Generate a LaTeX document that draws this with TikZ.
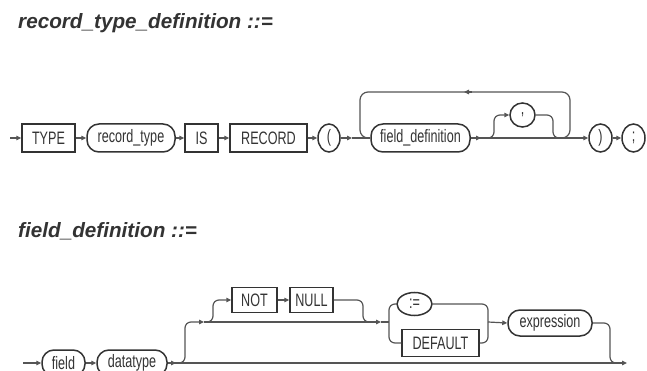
\documentclass[tikz,border=0pt]{standalone}
\usepackage{fontspec}
\setmainfont{Liberation Sans}
\newfontfamily\boxfont[FakeStretch=0.7]{Liberation Sans}
\usetikzlibrary{arrows.meta,shapes.geometric}
\definecolor{ink}{HTML}{333333}
\definecolor{wire}{HTML}{555555}
\begin{document}
\begin{tikzpicture}[x=1pt,y=-1pt,
  base/.style={draw=ink, line width=1.5pt, inner sep=0pt, text=ink,
    font={\boxfont\fontsize{18}{18}\selectfont}},
  kw/.style={base, rectangle, minimum height=28pt},
  idn/.style={base, rectangle, rounded corners=12pt, minimum height=28pt},
  sym/.style={base, ellipse, minimum height=28pt},
  wire/.style={draw=wire, line width=1.2pt},
  arr/.style={-{Triangle[length=5pt,width=4.5pt]}},
  title/.style={anchor=base west, text=ink, inner sep=0pt,
    font={\fontsize{20.7}{24}\selectfont\bfseries\itshape}}]
\fill[white] (0,0) rectangle (647,371);
\useasboundingbox (0,0) rectangle (647,371);

% ---------- titles
\node[title] (t1) at (18,29) {record\_type\_definition ::=};
\node[title] (t2) at (18,237) {field\_definition ::=};

% ---------- record_type_definition
\coordinate (s1) at (10,138);
\node[kw, minimum width=53pt] (TYPE) at (48.5,138) {TYPE};
\node[idn, minimum width=88pt] (rt) at (131,138) {record\_type};
\node[kw, minimum width=33pt] (IS) at (201.5,138) {IS};
\node[kw, minimum width=77pt] (REC) at (268.5,138) {RECORD};
\node[sym, minimum width=22pt] (lp) at (329,138) {(};
\node[idn, minimum width=99pt] (fd) at (420.5,138) {field\_definition};
\node[sym, minimum width=25pt, minimum height=24pt] (comma) at (522.5,115) {,};
\node[sym, minimum width=23pt] (rp) at (600.5,138) {)};
\node[sym, minimum width=23pt] (semi) at (633.5,138) {;};

\coordinate (a1) at (352,138);
\coordinate (lb) at (360,138);
\coordinate (lt) at (360,92);
\coordinate (rtop) at (570,92);
\coordinate (rb) at (570,138);
\coordinate (re) at (560,138);
\coordinate (la1) at (472,92);
\coordinate (la2) at (464,92);
\coordinate (a2) at (481,138);
\coordinate (c0) at (486,138);
\coordinate (c1) at (494,138);
\coordinate (c2) at (494,115);
\coordinate (c3) at (553,115);
\coordinate (c4) at (553,138);
\coordinate (c5) at (562,138);

\draw[wire,arr] (s1) -- (TYPE.west);
\draw[wire,arr] (TYPE.east) -- (rt.west);
\draw[wire,arr] (rt.east) -- (IS.west);
\draw[wire,arr] (IS.east) -- (REC.west);
\draw[wire,arr] (REC.east) -- (lp.west);
\draw[wire,arr] (lp.east) -- (a1);
\draw[wire] (a1) -- (fd.west);
\draw[wire,rounded corners=8pt] (fd.west) -- (lb) -- (lt) -- (rtop) -- (rb) -- (re);
\draw[wire,arr] (la1) -- (la2);
\draw[wire,arr] (fd.east) -- (a2);
\draw[wire,arr] (fd.east) -- (rp.west);
\draw[wire,arr,rounded corners=6pt] (c0) -- (c1) -- (c2) -- (comma.west);
\draw[wire,rounded corners=6pt] (comma.east) -- (c3) -- (c4) -- (c5);
\draw[wire,arr] (rp.east) -- (semi.west);

% ---------- field_definition
\coordinate (s2) at (23,363);
\node[idn, minimum width=43pt, minimum height=26pt] (field) at (63.5,363) {field};
\node[idn, minimum width=70pt, minimum height=26pt] (dt) at (132,363) {datatype};
\node[kw, minimum width=45pt, minimum height=25pt] (NOT) at (254.5,300) {NOT};
\node[kw, minimum width=43pt, minimum height=25pt] (NULL) at (311.5,300) {NULL};
\node[sym, minimum width=35pt, minimum height=23pt] (assign) at (414.5,304) {:=};
\node[kw, minimum width=77pt, minimum height=27pt] (DEF) at (440.5,343) {DEFAULT};
\node[idn, minimum width=84pt, minimum height=26pt] (expr) at (550,323) {expression};

\coordinate (e2) at (627,363);
\coordinate (d1) at (176,363);
\coordinate (b0) at (178,363);
\coordinate (b1) at (185,363);
\coordinate (b2) at (185,322);
\coordinate (b3) at (204,322);
\coordinate (n1) at (213,322);
\coordinate (n2) at (213,300);
\coordinate (n3) at (363,300);
\coordinate (n4) at (363,322);
\coordinate (n5) at (372,322);
\coordinate (ch0) at (381,322);
\coordinate (ch1) at (389,322);
\coordinate (chT) at (389,304);
\coordinate (chB) at (389,343);
\coordinate (cr1) at (488,304);
\coordinate (cr2) at (488,343);
\coordinate (cr0) at (488,322);
\coordinate (x1) at (610,323);
\coordinate (x2) at (610,363);
\coordinate (x3) at (620,363);

\draw[wire,arr] (s2) -- (field.west);
\draw[wire,arr] (field.east) -- (dt.west);
\draw[wire,arr] (dt.east) -- (d1);
\draw[wire,arr] (dt.east) -- (e2);
\draw[wire,arr,rounded corners=6pt] (b0) -- (b1) -- (b2) -- (b3);
\draw[wire,arr] (b3) -- (ch0);
\draw[wire,arr,rounded corners=6pt] (b3) -- (n1) -- (n2) -- (NOT.west);
\draw[wire,arr] (NOT.east) -- (NULL.west);
\draw[wire,rounded corners=6pt] (NULL.east) -- (n3) -- (n4) -- (n5);
\draw[wire] (ch0) -- (ch1);
\draw[wire,rounded corners=6pt] (assign.west) -- (chT) -- (chB) -- (DEF.west);
\draw[wire,rounded corners=6pt] (assign.east) -- (cr1) -- (cr2) -- (DEF.east);
\draw[wire,arr] (cr0) -- (expr.west);
\draw[wire,rounded corners=6pt] (expr.east) -- (x1) -- (x2) -- (x3);
\end{tikzpicture}
\end{document}
